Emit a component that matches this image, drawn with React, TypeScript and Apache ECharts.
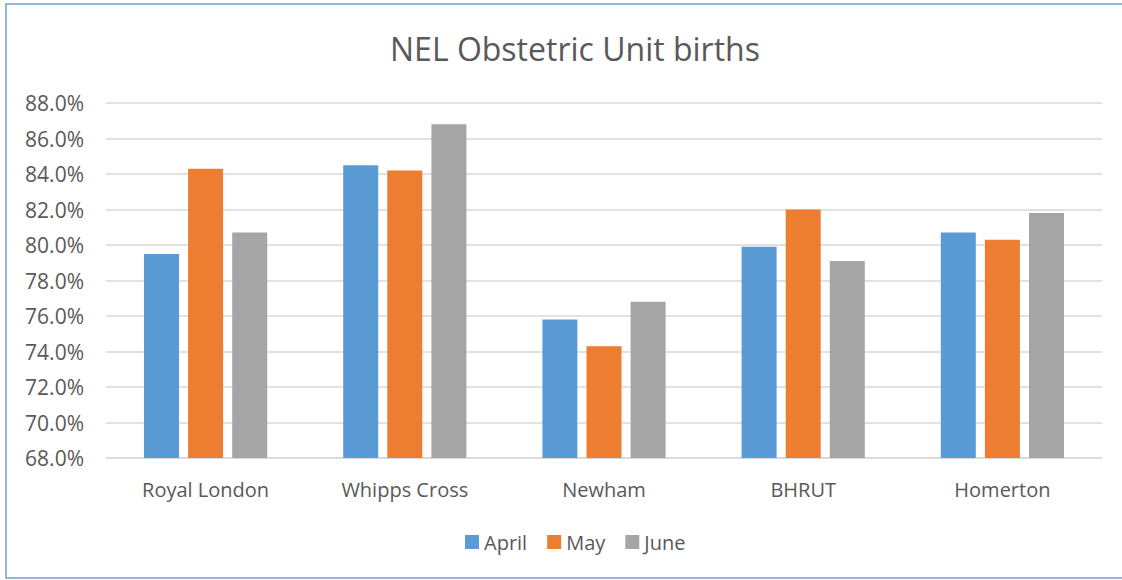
import React, { useEffect, useRef } from "react";
import * as echarts from "echarts";

const categories = ["Royal London", "Whipps Cross", "Newham", "BHRUT", "Homerton"];
const april = [79.5, 84.5, 75.8, 79.9, 80.7];
const may = [84.3, 84.2, 74.3, 82.0, 80.3];
const june = [80.7, 86.8, 76.8, 79.1, 81.8];
const seriesNames = ["April", "May", "June"];
const colors = ["#5B9BD5", "#ED7D31", "#A5A5A5"];

export default function App() {
  const ref = useRef<HTMLDivElement>(null);
  useEffect(() => {
    document.body.style.margin = "0";
    const chart = echarts.init(ref.current!, null, { renderer: "svg" });
    const font = "'Open Sans', 'Noto Sans', sans-serif";
    const data = [april, may, june];
    chart.setOption({
      animation: false,
      backgroundColor: "#ffffff",
      title: {
        text: "NEL Obstetric Unit births",
        left: 385,
        top: 27,
        textStyle: { fontFamily: font, fontSize: 32, fontWeight: "normal", color: "#595959" },
      },
      legend: {
        data: seriesNames,
        top: 527,
        left: 460,
        icon: "rect",
        itemWidth: 14,
        itemHeight: 14,
        itemGap: 20,
        textStyle: { fontFamily: font, fontSize: 20, color: "#595959" },
      },
      grid: { left: 106, right: 20, top: 103, bottom: 122, containLabel: false },
      xAxis: {
        type: "category",
        data: categories,
        axisTick: { show: false },
        axisLine: { lineStyle: { color: "#D9D9D9", width: 1.5 } },
        axisLabel: { fontFamily: font, fontSize: 20, color: "#595959", margin: 21 },
      },
      yAxis: {
        type: "value",
        min: 68,
        max: 88,
        interval: 2,
        axisLabel: {
          fontFamily: font,
          fontSize: 21,
          color: "#595959",
          margin: 22,
          formatter: (v: number) => v.toFixed(1) + "%",
        },
        splitLine: { lineStyle: { color: "#D9D9D9", width: 1.5 } },
        axisLine: { show: false },
        axisTick: { show: false },
      },
      series: seriesNames.map((name, i) => ({
        name,
        type: "bar",
        data: data[i],
        barWidth: 35,
        barGap: "26%",
        itemStyle: { color: colors[i] },
      })),
      graphic: [
        {
          type: "rect",
          shape: { x: 6, y: 4, width: 1130, height: 574 },
          style: { fill: "none", stroke: "#6FA0DA", lineWidth: 1.5 },
          silent: true,
          z: 100,
        },
      ],
    });
    return () => chart.dispose();
  }, []);
  return <div ref={ref} style={{ width: 1122, height: 580 }} />;
}
